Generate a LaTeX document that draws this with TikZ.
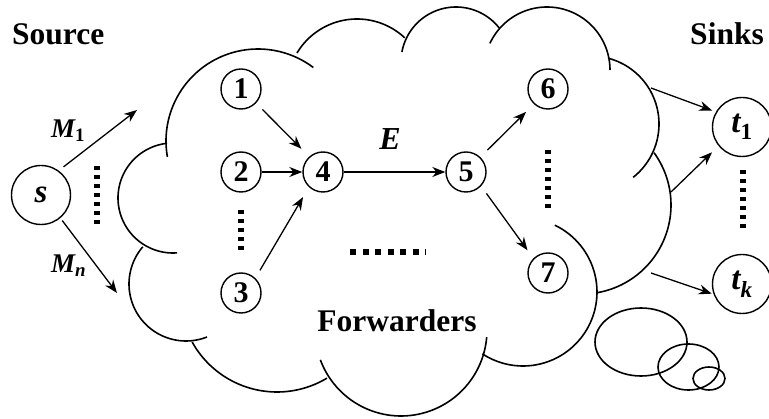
\documentclass[tikz,border=0pt]{standalone}
\usepackage{fontspec}
\setmainfont{Liberation Serif}
\usetikzlibrary{arrows.meta}
\tikzset{
  cloudline/.style={line width=1.6pt},
  dotrow/.style={line width=5.5pt, dash pattern=on 4.5pt off 4.5pt},
  arr/.style={line width=1.3pt, -{Stealth[length=13pt,width=10pt]}},
  fwd/.style={circle, draw, line width=1.4pt, minimum size=40pt, inner sep=0pt,
    font=\fontsize{30}{30}\selectfont\bfseries},
  term/.style={circle, draw, line width=1.4pt, minimum size=59pt, inner sep=0pt,
    font=\fontsize{33}{33}\selectfont\bfseries\itshape},
  title/.style={font=\fontsize{31.5}{31.5}\selectfont\bfseries, inner sep=0pt},
  msg/.style={font=\fontsize{27}{27}\selectfont\bfseries\itshape, inner sep=0pt},
  elab/.style={font=\fontsize{32}{32}\selectfont\bfseries\itshape, inner sep=0pt},
}
% one lobe of the cloud: centre x, centre y, radius, start angle, end angle
\newcommand{\lobearc}[5]{\draw[cloudline] plot[domain=#4:#5,samples=60]
  ({#1+#3*cos(\x)},{#2+#3*sin(\x)});}

\begin{document}
\begin{tikzpicture}[x=1pt,y=-1pt]
\useasboundingbox (0,0) rectangle (769,419);

% cloud of forwarders
\lobearc{258}{141}{92}{170}{307}
\lobearc{357}{89}{70}{211}{313}
\lobearc{456}{62}{55}{190.5}{322}
\lobearc{547}{70}{63}{205}{360}
\lobearc{591}{124}{68}{-75.5}{51.6}
\lobearc{582}{205}{89}{-36}{80}
\lobearc{523}{292}{74}{-64.5}{123.3}
\lobearc{401}{330}{86}{4.7}{159.7}
\lobearc{277}{295}{97}{59}{151}
\lobearc{186}{284}{57}{68.4}{220.7}
\lobearc{173}{198}{55}{85.8}{263.8}

% thought bubbles
\draw[cloudline] (641,342) ellipse [x radius=46pt, y radius=34pt];
\draw[cloudline] (688.5,367) ellipse [x radius=30.5pt, y radius=23pt];
\draw[cloudline] (709,378.5) ellipse [x radius=16pt, y radius=11.5pt];

% titles
\node[title, anchor=base west] (srclabel) at (12,45) {Source};
\node[title, anchor=base east] (sinklabel) at (764,45) {Sinks};
\node[title, anchor=base] (fwdlabel) at (397,332) {Forwarders};

% nodes
\node[term] (s) at (41,195) {s};
\node[term] (t1) at (742,127) {t\textsubscript{\upshape 1}};
\node[term] (tk) at (742,284) {t\textsubscript{k}};
\node[fwd] (n1) at (241,89) {1};
\node[fwd] (n2) at (241,172) {2};
\node[fwd] (n3) at (241,293) {3};
\node[fwd] (n4) at (323,172) {4};
\node[fwd] (n5) at (466,172) {5};
\node[fwd] (n6) at (548,89) {6};
\node[fwd] (n7) at (548,273) {7};

% free ends of the arrows into and out of the cloud
\coordinate (m1end) at (137,110);
\coordinate (mnend) at (117,293);
\coordinate (out1) at (651,88);
\coordinate (out2) at (671,192);
\coordinate (outk) at (651,273);

% source messages
\draw[arr, shorten <=6pt] (s.54.6) -- (m1end);
\draw[arr, shorten <=3pt] (s.-50.5) -- (mnend);
\node[msg, anchor=base west] (m1label) at (51,138) {M\textsubscript{\upshape 1}};
\node[msg, anchor=base west] (mnlabel) at (51,273) {M\textsubscript{n}};

% inside the cloud
\draw[arr, shorten <=9pt, shorten >=11pt] (n1.-43.6) -- (n4.132.4);
\draw[arr] (n2) -- (n4);
\draw[arr, shorten <=9pt, shorten >=11.5pt] (n3.46) -- (n4.227.6);
\draw[arr] (n4) -- (n5);
\node[elab, anchor=base] (elabel) at (390,150) {E};
\draw[arr, shorten <=10pt, shorten >=11pt] (n5.46.3) -- (n6.227.6);
\draw[arr, shorten <=9pt, shorten >=10pt] (n5.-43.6) -- (n7.135);

% towards the sinks
\draw[arr, shorten >=4pt] (out1) -- (t1.150.5);
\draw[arr, shorten >=9pt] (out2) -- (t1.219.8);
\draw[arr, shorten >=2pt] (outk) -- (tk.200);

% dotted gaps
\draw[dotrow] (97,166) -- (97,226);
\draw[dotrow] (241,210) -- (241,253);
\draw[dotrow, line width=6pt, dash pattern=on 6pt off 6.5pt] (350,252) -- (426,252);
\draw[dotrow] (548,150) -- (548,210);
\draw[dotrow] (743,170) -- (743,229);
\end{tikzpicture}
\end{document}
